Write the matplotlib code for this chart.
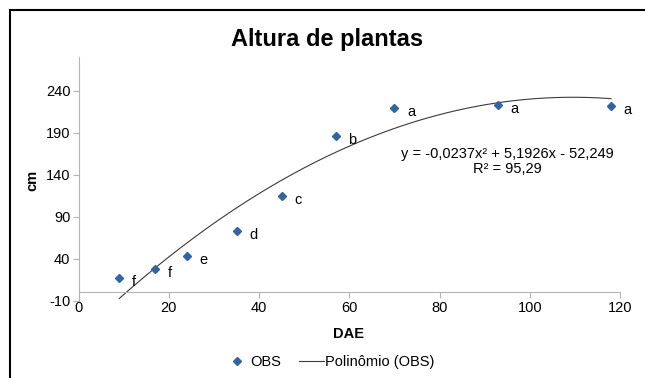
import matplotlib.pyplot as plt
import numpy as np
from matplotlib.lines import Line2D

plt.rcParams['font.family'] = ['Liberation Sans', 'DejaVu Sans']
plt.rcParams['axes.unicode_minus'] = False

# observed data
dae = [9, 17, 24, 35, 45, 57, 70, 93, 118]
cm = [17, 28, 43, 73, 115, 186, 219, 223, 222]
letras = ['f', 'f', 'e', 'd', 'c', 'b', 'a', 'a', 'a']

# polynomial trend from the chart equation
coef = [-0.0237, 5.1926, -52.249]
eq_text = "y = -0,0237x\u00b2 + 5,1926x - 52,249\nR\u00b2 = 95,29"

xticks = [0, 20, 40, 60, 80, 100, 120]
yticks = [-10, 40, 90, 140, 190, 240]

fig = plt.figure(figsize=(6.45, 3.78), dpi=100)
ax = fig.add_axes([0.1219, 0.2045, 0.8393, 0.6445])

azul = '#2f65a8'
cinza = '#b4b4b4'

ax.plot(dae, cm, linestyle='none', marker='D', markersize=4.5,
        color=azul, zorder=3)

xs = np.linspace(min(dae), max(dae), 200)
ax.plot(xs, np.polyval(coef, xs), color='#3a3a3a', linewidth=0.8, zorder=2)

for x, y, l in zip(dae, cm, letras):
    ax.annotate(l, (x, y), xytext=(9, -3), textcoords='offset points',
                fontsize=10.5, va='center', ha='left')

ax.text(95.0, 173, eq_text, fontsize=10.5, ha='center', va='top',
        linespacing=1.05)

ax.set_xlim(0, 120)
ax.set_ylim(-10, 280)
ax.set_xticks(xticks)
ax.set_yticks(yticks)
ax.tick_params(axis='both', labelsize=10.5, length=4, width=0.8,
               color=cinza, pad=2)

for s in ['top', 'right']:
    ax.spines[s].set_visible(False)
ax.spines['bottom'].set_position(('data', 0))
ax.spines['bottom'].set_color(cinza)
ax.spines['left'].set_color(cinza)
ax.spines['bottom'].set_linewidth(0.8)
ax.spines['left'].set_linewidth(0.8)

ax.set_ylabel('cm', fontsize=10.5, fontweight='bold')
ax.yaxis.set_label_coords(-0.072, 0.495)
ax.set_xlabel('DAE', fontsize=10.5, fontweight='bold')
ax.xaxis.set_label_coords(0.498, -0.109)

fig.text(0.507, 0.895, 'Altura de plantas', fontsize=17, fontweight='bold',
         ha='center', va='center')

handles = [
    Line2D([], [], linestyle='none', marker='D', markersize=4.5, color=azul),
    Line2D([], [], color='#3a3a3a', linewidth=0.8),
]
fig.legend(handles, ['OBS', 'Polinômio (OBS)'], loc='center',
           bbox_to_anchor=(0.511, 0.042), ncol=2, frameon=False,
           fontsize=10.5, handlelength=1.7, columnspacing=1.2,
           handletextpad=0.1)

# border lines of the frame (top and left visible)
fig.add_artist(Line2D([0.0155, 1.0], [0.974, 0.974], color='black',
                      linewidth=1.5, transform=fig.transFigure))
fig.add_artist(Line2D([0.0155, 0.0155], [0.0, 0.974], color='black',
                      linewidth=1.5, transform=fig.transFigure))

fig.savefig('out.png', dpi=100)
